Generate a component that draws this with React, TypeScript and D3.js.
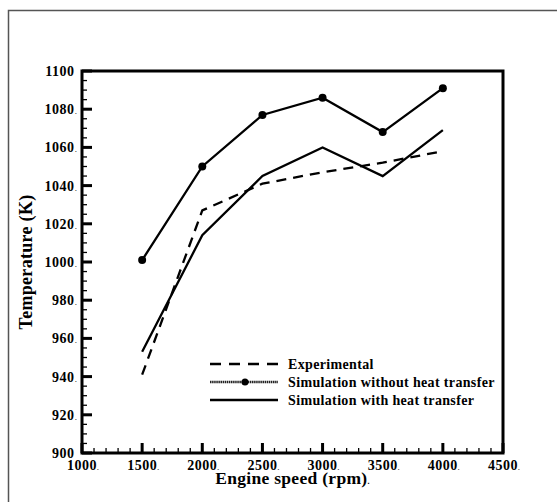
import React from "react";
import * as d3 from "d3";

const speeds = [1500, 2000, 2500, 3000, 3500, 4000];
const experimental = [941, 1027, 1041, 1047, 1052, 1058];
const withoutHeat = [1001, 1050, 1077, 1086, 1068, 1091];
const withHeat = [953, 1014, 1045, 1060, 1045, 1069];

const xTicks = [1000, 1500, 2000, 2500, 3000, 3500, 4000, 4500];
const yTicks = [900, 920, 940, 960, 980, 1000, 1020, 1040, 1060, 1080, 1100];

const legendItems = [
  "Experimental",
  "Simulation without heat transfer",
  "Simulation with heat transfer",
];

const FONT = "'Liberation Serif', 'Times New Roman', serif";

const App = () => {
  const width = 557;
  const height = 502;
  const margin = { top: 71, right: 54, bottom: 49, left: 82 };

  const xScale = d3
    .scaleLinear()
    .domain([1000, 4500])
    .range([margin.left, width - margin.right]);

  const yScale = d3
    .scaleLinear()
    .domain([900, 1100])
    .range([height - margin.bottom, margin.top]);

  const line = d3
    .line<number>()
    .x((d, i) => xScale(speeds[i]))
    .y((d) => yScale(d));

  const x0 = xScale(1000);
  const x1 = xScale(4500);
  const y0 = yScale(900);
  const y1 = yScale(1100);

  const xMinor = d3.range(1000, 4501, 100).filter((v) => v % 500 !== 0);
  const yMinor = d3.range(900, 1101, 5).filter((v) => v % 20 !== 0);

  const tickFs = 14;
  const tickLs = 0.5;
  const numWidth = (v: number) => String(v).length * (tickFs * 0.5 + tickLs);

  const legendX = 210;
  const legendY = 364;
  const legendGap = 18;

  return (
    <svg
      width={width}
      height={height}
      style={{ position: "absolute", left: 0, top: 0, background: "#fff" }}
      fontFamily={FONT}
      fontWeight="bold"
    >
      <rect x={8.5} y={10.5} width={600} height={600} fill="none" stroke="#555" strokeWidth={1.5} />

      {/* minor ticks */}
      {xMinor.map((v) => (
        <line key={"xm" + v} x1={xScale(v)} x2={xScale(v)} y1={y0} y2={y0 - 5} stroke="#000" strokeWidth={1.3} />
      ))}
      {yMinor.map((v) => (
        <line key={"ym" + v} x1={x0} x2={x0 + 5} y1={yScale(v)} y2={yScale(v)} stroke="#000" strokeWidth={1.3} />
      ))}
      {/* major ticks */}
      {xTicks.map((v) => (
        <line key={"xM" + v} x1={xScale(v)} x2={xScale(v)} y1={y0} y2={y0 - 10} stroke="#000" strokeWidth={3} />
      ))}
      {yTicks.map((v) => (
        <line key={"yM" + v} x1={x0} x2={x0 + 10} y1={yScale(v)} y2={yScale(v)} stroke="#000" strokeWidth={3} />
      ))}

      <rect x={x0} y={y1} width={x1 - x0} height={y0 - y1} fill="none" stroke="#000" strokeWidth={3} />

      {/* tick labels */}
      {xTicks.map((v) => (
        <g key={"xl" + v}>
          <text x={xScale(v)} y={y0 + 16.5} fontSize={tickFs} letterSpacing={tickLs} textAnchor="middle">
            {v}
          </text>
          <text x={xScale(v) + numWidth(v) / 2} y={y0 + 16.5} fontSize={7}>
            .
          </text>
        </g>
      ))}
      {yTicks.map((v) => (
        <g key={"yl" + v}>
          <text x={x0 - 7.5} y={yScale(v) + 5} fontSize={tickFs} letterSpacing={tickLs} textAnchor="end">
            {v}
          </text>
          {v === 900 || v === 1100 ? null : (
            <text x={x0 - 7} y={yScale(v) + 5} fontSize={7}>
              .
            </text>
          )}
        </g>
      ))}

      {/* axis titles */}
      <text x={(x0 + x1) / 2} y={484} fontSize={17.5} letterSpacing={0.3} textAnchor="middle">
        Engine speed (rpm)<tspan fontSize={8}>.</tspan>
      </text>
      <text
        transform={`translate(31.5,${(y0 + y1) / 2}) rotate(-90)`}
        fontSize={18}
        letterSpacing={0.3}
        textAnchor="middle"
      >
        Temperature (K)
      </text>

      {/* series */}
      <path d={line(experimental) || ""} fill="none" stroke="#000" strokeWidth={2.3} strokeDasharray="10 7" />
      <path d={line(withoutHeat) || ""} fill="none" stroke="#000" strokeWidth={2.3} />
      {withoutHeat.map((v, i) => (
        <circle key={"c" + i} cx={xScale(speeds[i])} cy={yScale(v)} r={4} fill="#000" />
      ))}
      <path d={line(withHeat) || ""} fill="none" stroke="#000" strokeWidth={2.3} />

      {/* legend */}
      <g>
        <line x1={legendX} x2={legendX + 68} y1={legendY} y2={legendY} stroke="#000" strokeWidth={2.5} strokeDasharray="11 8" />
        <line x1={legendX} x2={legendX + 68} y1={legendY + legendGap} y2={legendY + legendGap} stroke="#222" strokeWidth={2.5} strokeDasharray="1.5 0.6" />
        <circle cx={legendX + 35} cy={legendY + legendGap} r={3.5} fill="#000" />
        <line x1={legendX} x2={legendX + 68} y1={legendY + 2 * legendGap} y2={legendY + 2 * legendGap} stroke="#000" strokeWidth={2.5} />
        {legendItems.map((t, i) => (
          <text key={t} x={288} y={legendY + i * legendGap + 4.5} fontSize={14} letterSpacing={0.35}>
            {t}
          </text>
        ))}
      </g>
    </svg>
  );
};

export default App;
